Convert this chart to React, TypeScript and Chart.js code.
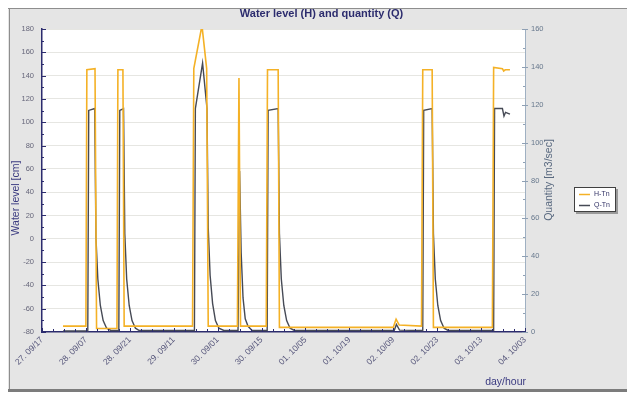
import React, { useEffect, useRef } from 'react';
import { Chart, registerables } from 'chart.js';

Chart.register(...registerables);

// ---- data ----
const chartTitle = 'Water level (H) and quantity (Q)';
const leftTitle = 'Water level [cm]';
const rightTitle = 'Quantity [m3/sec]';
const xTitle = 'day/hour';
const seriesNames = ['H-Tn', 'Q-Tn'];

const xTickLabels = [
  '27. 09/17', '28. 09/07', '28. 09/21', '29. 09/11', '30. 09/01', '30. 09/15',
  '01. 10/05', '01. 10/19', '02. 10/09', '02. 10/23', '03. 10/13', '04. 10/03',
];
const hoursPerLabel = 14;

// Water level H [cm] (time in hours from first label)
const hHours = [
  6.7, 14.0, 14.3, 16.9, 17.4, 23.9, 24.2, 25.8, 26.2, 48.0, 48.4, 51.0, 52.5, 53.0,
  62.3, 62.8, 63.3, 71.5, 71.9, 75.3, 75.7, 112.0, 112.9, 113.9, 121.0, 121.4, 124.4,
  124.8, 143.6, 144.0, 146.8, 147.2, 147.7, 149.2,
];
const hValues = [
  -75, -75, 145, 146, -77, -77, 145, 145, -75, -75, 146, 183, 146, -75,
  -75, 138, -75, -75, 145, 145, -76, -76, -69, -74, -75, 145, 145,
  -76, -76, 147, 146, 144, 145, 145,
];

// Quantity Q [m3/sec]
const qHours = [
  6.7, 14.6, 14.9, 16.8, 17.2, 17.8, 18.6, 19.5, 20.6, 22.0,
  24.5, 24.8, 26.0, 26.4, 27.0, 27.8, 28.7, 29.8, 31.0,
  48.6, 48.9, 51.2, 52.6, 53.0, 53.6, 54.4, 55.3, 56.4, 58.0,
  62.5, 63.0, 63.5, 64.1, 64.8, 65.7, 67.0,
  71.8, 72.1, 75.3, 75.7, 76.3, 77.1, 78.0, 79.1, 80.5,
  112.3, 113.0, 114.0,
  121.4, 121.7, 124.4, 124.8, 125.4, 126.2, 127.1, 128.2, 129.5,
  144.0, 144.3, 146.8, 147.3, 147.8, 149.2,
];
const qValues = [
  0.5, 0.5, 117, 118, 50, 28, 14, 6, 2, 0.8,
  0.8, 117, 118, 52, 28, 14, 6, 2, 0.8,
  0.8, 118, 142, 118, 55, 30, 15, 6, 2, 0.8,
  0.8, 85, 42, 18, 7, 3, 0.8,
  0.8, 117, 118, 52, 28, 14, 6, 2, 0.8,
  0.8, 4, 1,
  0.8, 117, 118, 52, 28, 14, 6, 2, 0.8,
  0.8, 118, 118, 114, 116, 115,
];

const hColor = '#f4b126';
const qColor = '#464a55';
const navy = '#2c2c6e';
const fontFamily = '"Liberation Sans", Arial, sans-serif';

const panelPlugin = {
  id: 'panel',
  beforeDraw(chart: any) {
    const { ctx, width, height, chartArea: a } = chart;
    ctx.save();
    ctx.fillStyle = '#e5e5e5';
    ctx.fillRect(0, 0, width, height);
    ctx.fillStyle = '#ffffff';
    ctx.fillRect(a.left, a.top, a.right - a.left, a.bottom - a.top);
    ctx.fillStyle = '#8e8e8e';
    ctx.fillRect(0, 0, width, 1);
    ctx.fillRect(1, 0, 1, height);
    ctx.fillStyle = '#7c7c7c';
    ctx.fillRect(0, height - 3, width, 3);
    ctx.restore();
  },
};

const decorPlugin = {
  id: 'decor',
  afterDraw(chart: any) {
    const { ctx, chartArea: a, scales, width } = chart;
    const yL = scales.yH;
    const yR = scales.yQ;
    const x = scales.x;
    ctx.save();
    ctx.lineWidth = 1;
    // left ticks (inward)
    ctx.strokeStyle = navy;
    ctx.beginPath();
    for (let v = -80; v <= 180; v += 10) {
      const py = Math.round(yL.getPixelForValue(v)) + 0.5;
      const len = v % 20 === 0 ? 4 : 2;
      ctx.moveTo(a.left, py);
      ctx.lineTo(a.left + len, py);
    }
    // bottom ticks
    for (let h = 0; h <= 154; h += 3.5) {
      const px = Math.round(x.getPixelForValue(h)) + 0.5;
      const len = Math.abs(h % 14) < 0.01 ? 4 : 3;
      ctx.moveTo(px, a.bottom);
      ctx.lineTo(px, a.bottom - len);
    }
    ctx.stroke();
    // right ticks
    ctx.strokeStyle = '#8fa0b4';
    ctx.beginPath();
    for (let v = 0; v <= 160; v += 10) {
      const py = Math.round(yR.getPixelForValue(v)) + 0.5;
      if (v % 20 === 0) {
        ctx.moveTo(a.right - 3, py);
        ctx.lineTo(a.right + 3, py);
      } else {
        ctx.moveTo(a.right - 2, py);
        ctx.lineTo(a.right, py);
      }
    }
    ctx.stroke();

    // main title
    ctx.fillStyle = navy;
    ctx.font = `bold 11px ${fontFamily}`;
    ctx.textAlign = 'center';
    ctx.textBaseline = 'middle';
    ctx.fillText(chartTitle, width / 2, 6);

    // axis titles
    ctx.font = `10.5px ${fontFamily}`;
    ctx.fillStyle = '#3a3a80';
    ctx.save();
    ctx.translate(8, 190);
    ctx.rotate(-Math.PI / 2);
    ctx.fillText(leftTitle, 0, 0);
    ctx.restore();
    ctx.save();
    ctx.translate(541, 172);
    ctx.rotate(-Math.PI / 2);
    ctx.fillStyle = '#5a6a80';
    ctx.fillText(rightTitle, 0, 0);
    ctx.restore();
    ctx.textAlign = 'right';
    ctx.fillText(xTitle, a.right + 1, 374);

    // legend
    const bx = 566, by = 179, bw = 42, bh = 25;
    ctx.fillStyle = '#9a9a9a';
    ctx.fillRect(bx + 2, by + 2, bw, bh);
    ctx.fillStyle = '#ffffff';
    ctx.fillRect(bx, by, bw, bh);
    ctx.strokeStyle = '#404040';
    ctx.strokeRect(bx + 0.5, by + 0.5, bw - 1, bh - 1);
    const colors = [hColor, qColor];
    ctx.font = `7px ${fontFamily}`;
    ctx.textAlign = 'left';
    seriesNames.forEach((name, i) => {
      const ry = by + 7 + i * 11;
      ctx.strokeStyle = colors[i];
      ctx.lineWidth = 1.5;
      ctx.beginPath();
      ctx.moveTo(bx + 5, ry + 0.5);
      ctx.lineTo(bx + 16, ry + 0.5);
      ctx.stroke();
      ctx.fillStyle = '#333366';
      ctx.fillText(name, bx + 20, ry + 0.5);
    });
    ctx.restore();
  },
};

export default function App() {
  const canvasRef = useRef<HTMLCanvasElement | null>(null);

  useEffect(() => {
    if (!canvasRef.current) return;
    const tickFont = { family: fontFamily, size: 7.5 };
    const chart = new Chart(canvasRef.current, {
      type: 'line',
      data: {
        datasets: [
          {
            label: seriesNames[0],
            data: hHours.map((h, i) => ({ x: h, y: hValues[i] })),
            borderColor: hColor,
            borderWidth: 1.6,
            pointRadius: 0,
            tension: 0,
            yAxisID: 'yH',
          },
          {
            label: seriesNames[1],
            data: qHours.map((h, i) => ({ x: h, y: qValues[i] })),
            borderColor: qColor,
            borderWidth: 1.4,
            pointRadius: 0,
            tension: 0,
            yAxisID: 'yQ',
          },
        ],
      },
      options: {
        responsive: false,
        animation: false,
        layout: { padding: { left: 0, right: 84, top: 21, bottom: 0 } },
        plugins: {
          legend: { display: false },
          title: { display: false },
          tooltip: { enabled: false },
        },
        scales: {
          x: {
            type: 'linear',
            min: 0,
            max: (xTickLabels.length - 1) * hoursPerLabel,
            afterBuildTicks: (scale: any) => {
              scale.ticks = xTickLabels.map((_, i) => ({ value: i * hoursPerLabel }));
            },
            afterFit: (scale: any) => {
              scale.height = 60;
            },
            ticks: {
              autoSkip: false,
              maxRotation: 45,
              minRotation: 45,
              padding: 3,
              color: '#55557a',
              font: { family: fontFamily, size: 8.5 },
              callback: (v: any) => xTickLabels[Math.round(Number(v) / hoursPerLabel)],
            },
            grid: { drawOnChartArea: false, drawTicks: false },
            border: { color: navy, width: 1.5 },
          },
          yH: {
            type: 'linear',
            position: 'left',
            min: -80,
            max: 180,
            afterFit: (scale: any) => {
              scale.width = 34;
            },
            ticks: { stepSize: 20, padding: 8, color: '#66667a', font: tickFont },
            grid: { color: '#e6e6e2', drawTicks: false },
            border: { color: navy, width: 1.5 },
          },
          yQ: {
            type: 'linear',
            position: 'right',
            min: 0,
            max: 160,
            afterFit: (scale: any) => {
              scale.width = 26;
            },
            ticks: { stepSize: 20, padding: 6, color: '#66778c', font: tickFont },
            grid: { drawOnChartArea: false, drawTicks: false },
            border: { color: '#9fb0c2', width: 1 },
          },
        },
      },
      plugins: [panelPlugin, decorPlugin],
    });
    return () => chart.destroy();
  }, []);

  return (
    <div style={{ width: 627, height: 384 }}>
      <canvas ref={canvasRef} width={627} height={384} style={{ display: 'block' }} />
    </div>
  );
}
